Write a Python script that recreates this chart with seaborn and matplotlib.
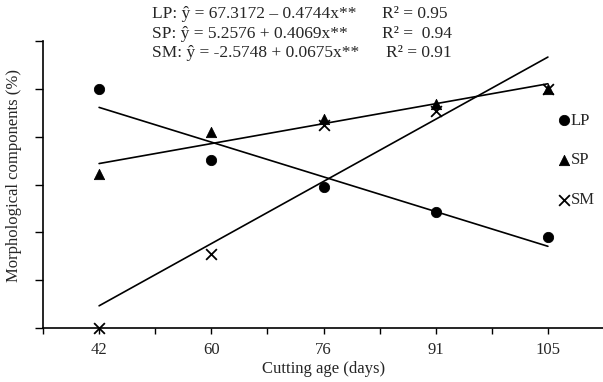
import numpy as np
import pandas as pd
import matplotlib
matplotlib.use("Agg")
import matplotlib.pyplot as plt
import seaborn as sns

# cutting ages (days) and morphological components (%)
ages = ["42", "60", "76", "91", "105"]
lp = [50.0, 35.1, 29.5, 24.3, 19.1]
sp = [32.1, 41.0, 43.6, 46.9, 50.0]
sm = [0.0, 15.4, 42.4, 45.4, 50.0]

eq_lines = ["LP: \u0177 = 67.3172 \u2013 0.4744x**",
            "SP: \u0177 = 5.2576 + 0.4069x**",
            "SM: \u0177 = -2.5748 + 0.0675x**"]
r2_lines = ["R\u00b2 = 0.95", "R\u00b2 =  0.94", "R\u00b2 = 0.91"]

sns.set_style("ticks")
plt.rcParams["font.family"] = ["Liberation Serif", "DejaVu Serif"]
plt.rcParams["font.size"] = 12

pos = np.arange(len(ages))
df = pd.DataFrame({
    "pos": np.tile(pos, 3),
    "val": lp + sp + sm,
    "comp": ["LP"] * 5 + ["SP"] * 5 + ["SM"] * 5,
})

fig = plt.figure(figsize=(6.03, 3.82), dpi=100)
ax = fig.add_axes([43 / 603, 1 - 328 / 382, 561 / 603, 287 / 382])

marks = {"LP": "o", "SP": "^", "SM": "x"}
for comp, m in marks.items():
    d = df[df.comp == comp]
    # regression line through the points
    sns.regplot(x=d.pos, y=d.val, ax=ax, scatter=False, ci=None, truncate=True,
                color="black", line_kws=dict(lw=1.2))
    if m == "x":
        sns.scatterplot(x=d.pos, y=d.val, ax=ax, marker="x", color="black",
                        s=60, linewidth=1.3, label=comp, zorder=3, clip_on=False)
    else:
        sns.scatterplot(x=d.pos, y=d.val, ax=ax, marker=m, color="black",
                        edgecolor="black", s=55, label=comp, zorder=3, clip_on=False)

ax.set_xlim(-0.5, 4.5)
ax.set_ylim(0, 60)
ax.set_xticks(pos)
ax.set_xticklabels(ages)
ax.set_xticks(np.arange(-0.5, 5.0, 1.0), minor=True)
ax.set_yticks(np.arange(0, 61, 10))
ax.set_yticklabels([])
ax.tick_params(axis="both", which="both", direction="out", color="black", width=1)
ax.tick_params(axis="x", which="major", length=4, pad=6)
ax.tick_params(axis="x", which="minor", length=4)
ax.tick_params(axis="y", length=6)
ax.set_xlabel("Cutting age (days)", labelpad=2)
ax.set_ylabel("Morphological components (%)")
ax.yaxis.set_label_coords(-0.037, 0.533)
for s in ["left", "bottom"]:
    ax.spines[s].set_color("black")
    ax.spines[s].set_linewidth(1.2)
sns.despine(ax=ax)

ax.legend(loc="center left", bbox_to_anchor=(0.905, 0.584), frameon=False,
          handlelength=0.6, handletextpad=0.1, labelspacing=1.42, borderpad=0)

for i, (e, r) in enumerate(zip(eq_lines, r2_lines)):
    y = 1 - (14 + 19.5 * i) / 382
    fig.text(152 / 603, y, e, va="center", ha="left", fontsize=12.5)
    fig.text((382 if i < 2 else 386) / 603, y, r, va="center", ha="left", fontsize=12.5)

fig.savefig("out.png", dpi=100)
